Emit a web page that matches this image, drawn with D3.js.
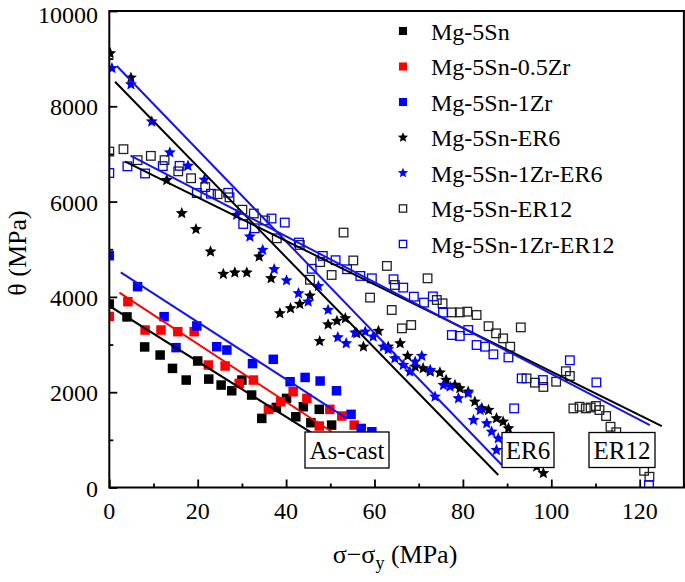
<!DOCTYPE html>
<html>
<head>
<meta charset="utf-8">
<script src="https://cdnjs.cloudflare.com/ajax/libs/d3/7.8.5/d3.min.js"></script>
</head>
<body style="margin:0">
<script>
// ---------- data ----------
const seriesNames = ["Mg-5Sn", "Mg-5Sn-0.5Zr", "Mg-5Sn-1Zr", "Mg-5Sn-ER6", "Mg-5Sn-1Zr-ER6", "Mg-5Sn-ER12", "Mg-5Sn-1Zr-ER12"];

const mg5snX = [0, 4, 8, 11.5, 14.3, 17.4, 20, 22.5, 25.3, 27.7, 30, 32.2, 34.5, 37.8, 40.1, 42.2, 43.9, 45.6, 47.5, 50.3];
const mg5snY = [3850, 3580, 2950, 2780, 2500, 2255, 2655, 2275, 2150, 2030, 2255, 1940, 1450, 1680, 1870, 1485, 1695, 1360, 1640, 1310];

const mg5sn05ZrX = [0, 4.2, 8.1, 11.7, 15.5, 19.2, 22.4, 26.2, 29.4, 32.6, 36, 38.8, 41.6, 44.7, 47.5, 49.9, 52.6, 55.4];
const mg5sn05ZrY = [3590, 3900, 3305, 3305, 3270, 3270, 2570, 2550, 2185, 2255, 1640, 1800, 2010, 1870, 1290, 1640, 1500, 1310];

const mg5sn1ZrX = [0, 6.4, 12.4, 15.1, 19.8, 24.3, 26.6, 32.4, 37.1, 40.9, 44.3, 47.7, 51.4, 54.7, 57, 59.4];
const mg5sn1ZrY = [4865, 4215, 3585, 2935, 3390, 2955, 2885, 2600, 2690, 2220, 2310, 2235, 2030, 1535, 1240, 1170];

const mg5snER6X = [0.2, 4.9, 13, 16.4, 19.6, 22.9, 25.8, 28.4, 31.1, 33.9, 36.6, 38.6, 41, 43.1, 45.4, 47.6, 49.5, 51.5, 53.4, 56, 57.5, 60.9, 63.1, 65.8, 67.5, 69.2, 71, 72.6, 74.8, 76.2, 78.2, 79.3, 81.2, 82.7, 84.3, 85.8, 87.6, 89.1, 90.3, 96.7, 98.2];
const mg5snER6Y = [9110, 8600, 6450, 5755, 5420, 4950, 4480, 4510, 4510, 4845, 4390, 3655, 3760, 3850, 4025, 3070, 3420, 3495, 3550, 3235, 2955, 3285, 2955, 3025, 2760, 2535, 2500, 2430, 2410, 2255, 2150, 2080, 2010, 1800, 1660, 1625, 1450, 1380, 1240, 435, 300];

const mg5sn1ZrER6X = [0.6, 4.9, 9.6, 13.7, 17.8, 21.5, 28.8, 31.8, 34.7, 37.3, 40.1, 42.8, 45, 47.3, 49.5, 51.7, 53.6, 55.6, 57.9, 59.7, 62, 63.1, 64.6, 66.5, 68, 69.2, 70.7, 72.6, 73.7, 75.6, 77.1, 79, 81.2, 82.4, 83.9, 85.4, 86.5, 87.6, 88];
const mg5sn1ZrER6Y = [8800, 8460, 7680, 7030, 6750, 6460, 5720, 5265, 4985, 4580, 4345, 4075, 3900, 4225, 3725, 3150, 3025, 3250, 3270, 3165, 2955, 2900, 2710, 2570, 2430, 2640, 2760, 2465, 1905, 2150, 2115, 1870, 1975, 1415, 1625, 1345, 1170, 785, 1030];

const mg5snER12X = [0, 3.2, 6.4, 9.4, 12.5, 15.6, 18.5, 21.7, 24.5, 27.2, 30.1, 32.7, 35.2, 37.9, 43.1, 45.4, 47.7, 50.3, 53, 55.2, 59, 62.8, 63.9, 64.6, 66.2, 68.3, 72, 74.1, 75.4, 77.5, 79.3, 81, 83.1, 85.8, 87.5, 89.1, 90.7, 93.1, 94.4, 96.3, 98.2, 101.1, 103.3, 104.2, 105, 106.4, 107.8, 108.9, 110.1, 110.9, 112.4, 113.4, 114.7, 121, 122.2];
const mg5snER12Y = [7050, 7100, 6870, 6960, 6870, 6635, 6490, 6305, 6155, 6090, 5830, 5750, 5605, 5230, 5090, 4360, 4730, 4460, 5350, 4765, 3985, 4650, 3725, 4250, 3340, 3410, 4390, 3935, 3865, 3675, 3675, 3690, 3620, 3385, 3235, 3130, 2955, 3360, 2290, 2200, 2110, 2220, 2440, 2340, 1660, 1695, 1660, 1680, 1710, 1625, 1500, 1275, 1160, 350, 225];

const mg5sn1ZrER12X = [0, 4.1, 8.1, 12.1, 15.9, 19.8, 23, 26.9, 30.3, 32.9, 36.7, 39.7, 42.9, 45.8, 48.3, 51.2, 53.8, 56.8, 59.4, 64.3, 66.5, 68.9, 71.2, 73.2, 75.5, 77.5, 79.3, 81.2, 83.1, 85, 86.9, 90.3, 91.6, 93.3, 98.1, 104.2, 110.2, 122.1];
const mg5sn1ZrER12Y = [6600, 6740, 6590, 6745, 6750, 6180, 6165, 6185, 5530, 5440, 5645, 5560, 5140, 4590, 4860, 4770, 4580, 4440, 4390, 4370, 4195, 4005, 3880, 4010, 3670, 3200, 3180, 3305, 2990, 2955, 2795, 2730, 1660, 2290, 2255, 2670, 2205, 50];

// fitted lines: [x1, y1, x2, y2]
const fitMg5Sn       = [0, 3810, 49.5, 930];
const fitMg5Sn05Zr   = [2.3, 4090, 50.3, 1170];
const fitMg5Sn1Zr    = [2.6, 4515, 53.7, 1450];
const fitER6         = [1.3, 8515, 88, 262];
const fitER6Zr       = [1.7, 8845, 88.8, 472];
const fitER12        = [3.6, 6840, 125, 1290];
const fitER12Zr      = [4.8, 6965, 122.3, 1310];

const xMajorTicks = [0, 20, 40, 60, 80, 100, 120];
const xMinorTicks = [10, 30, 50, 70, 90, 110, 130];
const yMajorTicks = [0, 2000, 4000, 6000, 8000, 10000];
const yMinorTicks = [1000, 3000, 5000, 7000, 9000];

const annotations = ["As-cast", "ER6", "ER12"];

// ---------- styling ----------
const FONT = "Liberation Serif";
const BLACK = "#000000", RED = "#ff0000", BLUE = "#0000ff", LBLUE = "#1414ee";

const series = [
  { name: seriesNames[0], xs: mg5snX, ys: mg5snY, shape: "square", fill: BLACK },
  { name: seriesNames[1], xs: mg5sn05ZrX, ys: mg5sn05ZrY, shape: "square", fill: RED },
  { name: seriesNames[2], xs: mg5sn1ZrX, ys: mg5sn1ZrY, shape: "square", fill: BLUE },
  { name: seriesNames[3], xs: mg5snER6X, ys: mg5snER6Y, shape: "star", fill: BLACK },
  { name: seriesNames[4], xs: mg5sn1ZrER6X, ys: mg5sn1ZrER6Y, shape: "star", fill: BLUE },
  { name: seriesNames[5], xs: mg5snER12X, ys: mg5snER12Y, shape: "open", stroke: "#222" },
  { name: seriesNames[6], xs: mg5sn1ZrER12X, ys: mg5sn1ZrER12Y, shape: "open", stroke: BLUE }
];
const fits = [
  { c: fitMg5Sn, color: BLACK }, { c: fitMg5Sn05Zr, color: RED }, { c: fitMg5Sn1Zr, color: LBLUE },
  { c: fitER6, color: BLACK }, { c: fitER6Zr, color: LBLUE },
  { c: fitER12, color: BLACK }, { c: fitER12Zr, color: LBLUE }
];

const W = 685, H = 582;
const x = d3.scaleLinear().domain([0, 130]).range([109.3, 683.9]);
const y = d3.scaleLinear().domain([0, 10000]).range([487.5, 11]);

const svg = d3.select("body").append("svg").attr("width", W).attr("height", H);

svg.append("defs").append("clipPath").attr("id", "plotclip")
  .append("rect").attr("x", x(0)).attr("y", y(10000))
  .attr("width", x(130) - x(0)).attr("height", y(0) - y(10000));

function starPath(R) {
  const r = R * 0.45;
  let p = "";
  for (let i = 0; i < 10; i++) {
    const rad = i % 2 === 0 ? R : r;
    const a = -Math.PI / 2 + i * Math.PI / 5;
    p += (i === 0 ? "M" : "L") + (rad * Math.cos(a)).toFixed(2) + "," + (rad * Math.sin(a)).toFixed(2);
  }
  return p + "Z";
}

function drawMarker(g, s, cx, cy, scale) {
  if (s.shape === "square") {
    const a = 9.5 * scale;
    g.append("rect").attr("x", cx - a / 2).attr("y", cy - a / 2).attr("width", a).attr("height", a).attr("fill", s.fill);
  } else if (s.shape === "open") {
    const a = 8.6 * scale;
    g.append("rect").attr("x", cx - a / 2).attr("y", cy - a / 2).attr("width", a).attr("height", a)
      .attr("fill", "none").attr("stroke", s.stroke).attr("stroke-width", 1.3);
  } else {
    g.append("path").attr("d", starPath(6.3 * scale)).attr("transform", `translate(${cx},${cy})`).attr("fill", s.fill);
  }
}

function addText(g, str, size) {
  return g.append("text").attr("font-family", FONT).attr("font-size", size).text(str);
}

const plot = svg.append("g").attr("clip-path", "url(#plotclip)");

// points
series.forEach(s => {
  const g = plot.append("g");
  s.xs.forEach((xv, i) => drawMarker(g, s, x(xv), y(s.ys[i]), 1));
});

// fit lines
fits.forEach(f => {
  plot.append("line")
    .attr("x1", x(f.c[0])).attr("y1", y(f.c[1]))
    .attr("x2", x(f.c[2])).attr("y2", y(f.c[3]))
    .attr("stroke", f.color).attr("stroke-width", 2);
});

// axes (inward ticks) - tick marks from d3 axes, labels added as plain texts
function styleAxis(a) {
  a.attr("font-family", null).attr("font-size", null);
  a.select(".domain").remove();
  a.selectAll(".tick line").attr("stroke", "#000").attr("stroke-width", 1.8);
  a.selectAll(".tick text").remove();
}
const axX = svg.append("g").attr("transform", `translate(0,${y(0)})`)
  .call(d3.axisBottom(x).tickValues(xMajorTicks).tickSizeInner(-8).tickSizeOuter(0));
const axXm = svg.append("g").attr("transform", `translate(0,${y(0)})`)
  .call(d3.axisBottom(x).tickValues(xMinorTicks).tickSizeInner(-4).tickSizeOuter(0));
const axY = svg.append("g").attr("transform", `translate(${x(0)},0)`)
  .call(d3.axisLeft(y).tickValues(yMajorTicks).tickSizeInner(-8).tickSizeOuter(0));
const axYm = svg.append("g").attr("transform", `translate(${x(0)},0)`)
  .call(d3.axisLeft(y).tickValues(yMinorTicks).tickSizeInner(-4).tickSizeOuter(0));
[axX, axXm, axY, axYm].forEach(styleAxis);

xMajorTicks.forEach(v => {
  addText(svg, String(v), 24).attr("x", x(v)).attr("y", 519).attr("text-anchor", "middle");
});
yMajorTicks.forEach(v => {
  addText(svg, String(v), 24).attr("x", 98).attr("y", Math.max(y(v), 14) + 9).attr("text-anchor", "end");
});

// frame
svg.append("rect").attr("x", x(0)).attr("y", y(10000))
  .attr("width", x(130) - x(0)).attr("height", y(0) - y(10000))
  .attr("fill", "none").attr("stroke", "#000").attr("stroke-width", 2);

// annotation boxes
const annoCenters = [[347, 450], [528, 450], [622, 450]];
const annoBox = [[84, 36], [52, 35], [66, 35]];
annotations.forEach((t, i) => {
  const [cx, cy] = annoCenters[i];
  const [bw, bh] = annoBox[i];
  svg.append("rect").attr("x", cx - bw / 2).attr("y", cy - bh / 2).attr("width", bw).attr("height", bh)
    .attr("fill", "#fff").attr("stroke", "#000").attr("stroke-width", 1.3);
  addText(svg, t, 25).attr("x", cx).attr("y", cy + 8.5).attr("text-anchor", "middle");
});

// legend
series.forEach((s, i) => {
  const cy = 31 + i * 35.5;
  drawMarker(svg, s, 403, cy, 0.85);
  addText(svg, s.name, 24).attr("x", 431).attr("y", cy + 8.5);
});

// axis titles
const xt = addText(svg, "", 26).attr("x", 395).attr("y", 563).attr("text-anchor", "middle");
xt.append("tspan").text("σ−σ");
xt.append("tspan").attr("font-size", 18).attr("dy", 6).text("y");
xt.append("tspan").attr("dy", -6).text(" (MPa)");

addText(svg, "θ (MPa)", 26).attr("transform", "translate(26,253) rotate(-90)").attr("text-anchor", "middle");
</script>
</body>
</html>
